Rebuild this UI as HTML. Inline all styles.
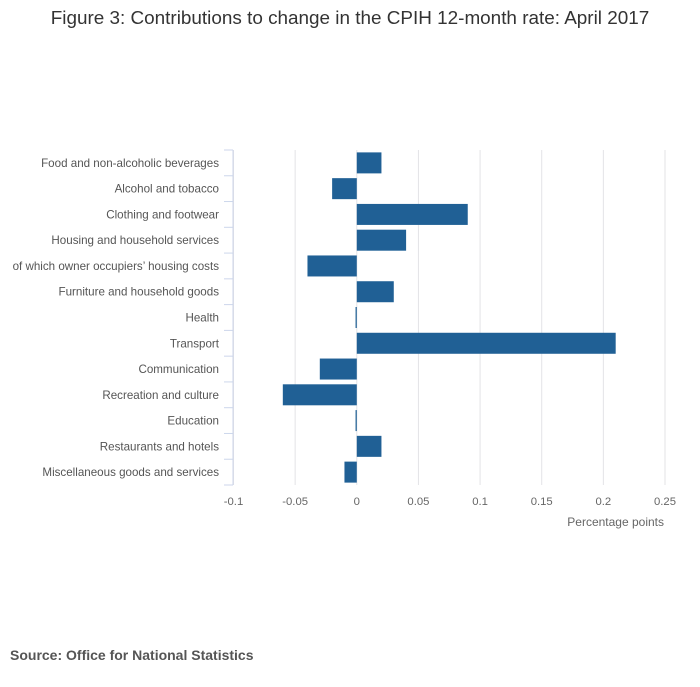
<!DOCTYPE html>
<html><head><meta charset="utf-8"><style>
body{margin:0;background:#fff;font-family:"Liberation Sans",sans-serif}
svg text{font-family:"Liberation Sans",sans-serif}
</style></head><body>
<svg width="700" height="682">
<text x="350" y="24" text-anchor="middle" font-size="18.9" fill="#333">Figure 3: Contributions to change in the CPIH 12-month rate: April 2017</text>
<g id="grid"></g><g id="bars"></g><g id="yaxis"></g><g id="xaxis"></g>
<text x="664" y="526" text-anchor="end" font-size="12" fill="#666">Percentage points</text>
<text x="10" y="660" font-size="14" font-weight="bold" fill="#555">Source: Office for National Statistics</text>
</svg>
<script>
const categories=["Food and non-alcoholic beverages","Alcohol and tobacco","Clothing and footwear","Housing and household services","of which owner occupiers’ housing costs","Furniture and household goods","Health","Transport","Communication","Recreation and culture","Education","Restaurants and hotels","Miscellaneous goods and services"];
const values=[0.02,-0.02,0.09,0.04,-0.04,0.03,-0.001,0.21,-0.03,-0.06,-0.001,0.02,-0.01];
const xTicks=[-0.1,-0.05,0,0.05,0.1,0.15,0.2,0.25];
const xTickLabels=["-0.1","-0.05","0","0.05","0.1","0.15","0.2","0.25"];
const NS="http://www.w3.org/2000/svg";
const x0=233.5,x1=665,yTop=150,yBot=485;
const xs=v=>x0+(v-xTicks[0])/(xTicks[xTicks.length-1]-xTicks[0])*(x1-x0);
const band=(yBot-yTop)/categories.length;
function mk(t,a,p){const e=document.createElementNS(NS,t);for(const k in a)e.setAttribute(k,a[k]);p.appendChild(e);return e;}
const grid=document.getElementById('grid'),bars=document.getElementById('bars'),ya=document.getElementById('yaxis'),xa=document.getElementById('xaxis');
xTicks.forEach((t,i)=>{
 const l=mk('line',{x1:xs(t),x2:xs(t),y1:yTop,y2:yBot,stroke:'#e3e3e6','stroke-width':1},grid);
 
 
 const tx=mk('text',{x:xs(t),y:505,'text-anchor':'middle','font-size':11.3,fill:'#666'},xa);
 tx.textContent=xTickLabels[i];
 
 
});
const ax=mk('line',{x1:233,x2:233,y1:yTop,y2:yBot,stroke:'#ccd6eb','stroke-width':1},ya);


for(let i=0;i<=categories.length;i++){
 const y=yTop+i*band;
 const tk=mk('line',{x1:224,x2:233,y1:y,y2:y,stroke:'#ccd6eb','stroke-width':1},ya);
 
 
}
categories.forEach((c,i)=>{
 const cy=yTop+(i+0.5)*band;
 const t=mk('text',{x:219,y:cy+4,'text-anchor':'end','font-size':11.6,fill:'#555'},ya);
 t.textContent=c;
 
 
 const v=values[i],a=xs(Math.min(0,v)),b=xs(Math.max(0,v));
 const r=mk('rect',{x:a,y:cy-10.5,width:Math.max(1,b-a),height:21,fill:'#206095'},bars);
 
 
});
</script>
</body></html>
